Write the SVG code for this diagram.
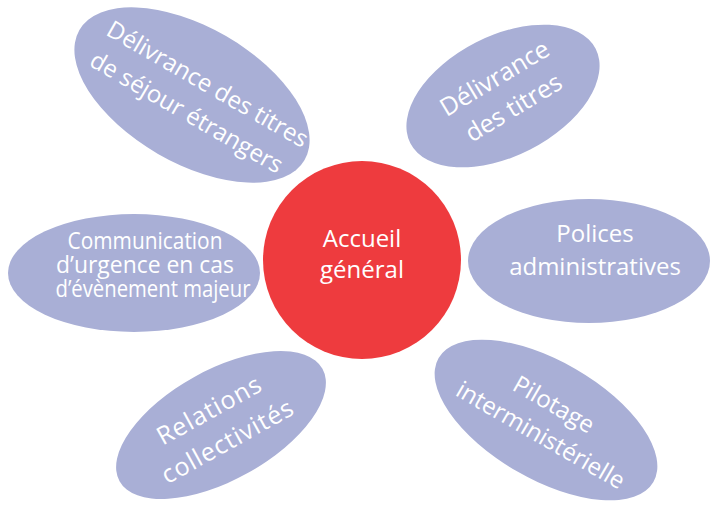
<svg xmlns="http://www.w3.org/2000/svg" width="711" height="506" viewBox="0 0 711 506">
<style>
.pet{fill:#A9AFD6}
.hub{fill:#EE3B3E}
.t{font-family:"Open Sans","DejaVu Sans",sans-serif;fill:#FFFFFF;text-anchor:middle}
</style>
<rect width="711" height="506" fill="#FFFFFF"/>
<g id="connectors"/>
<g id="n1" transform="translate(192,95) rotate(30)">
<ellipse class="pet" cx="0" cy="0" rx="130" ry="68"/>
<text class="t" font-size="24" x="8" y="-9">Délivrance des titres</text>
<text class="t" font-size="24" x="4" y="26">de séjour étrangers</text>
</g>
<g id="n2" transform="translate(503,96) rotate(-27)">
<ellipse class="pet" cx="0" cy="0" rx="104" ry="60"/>
</g>
<g id="n2t" transform="translate(503,96) rotate(-31)">
<text class="t" font-size="25" x="2" y="-11">Délivrance</text>
<text class="t" font-size="25" x="3" y="24">des titres</text>
</g>
<g id="n3">
<ellipse class="pet" cx="134" cy="273" rx="126" ry="59"/>
<text class="t" font-size="23" x="145" y="249" textLength="155" lengthAdjust="spacingAndGlyphs">Communication</text>
<text class="t" font-size="23" x="145" y="273" textLength="178" lengthAdjust="spacingAndGlyphs">d’urgence en cas</text>
<text class="t" font-size="23" x="153" y="297" textLength="195" lengthAdjust="spacingAndGlyphs">d’évènement majeur</text>
</g>
<g id="n4">
<ellipse class="pet" cx="589" cy="261" rx="121" ry="62"/>
<text class="t" font-size="24" x="595" y="242">Polices</text>
<text class="t" font-size="24" x="595" y="275">administratives</text>
</g>
<g id="n5" transform="translate(221,425) rotate(-29)">
<ellipse class="pet" cx="0" cy="0" rx="116" ry="55"/>
<text class="t" font-size="25" letter-spacing="1" x="-3" y="-10">Relations</text>
<text class="t" font-size="25" letter-spacing="1" x="-2" y="26">collectivités</text>
</g>
<g id="n6" transform="translate(546,420) rotate(30)">
<ellipse class="pet" cx="0" cy="0" rx="124" ry="59"/>
<text class="t" font-size="24" x="-1" y="-9">Pilotage</text>
<text class="t" font-size="24" x="3" y="24">interministérielle</text>
</g>
<g id="hub">
<circle class="hub" cx="362" cy="260" r="99"/>
<text class="t" font-size="24" x="362" y="247">Accueil</text>
<text class="t" font-size="24" x="362" y="278">général</text>
</g>
</svg>
